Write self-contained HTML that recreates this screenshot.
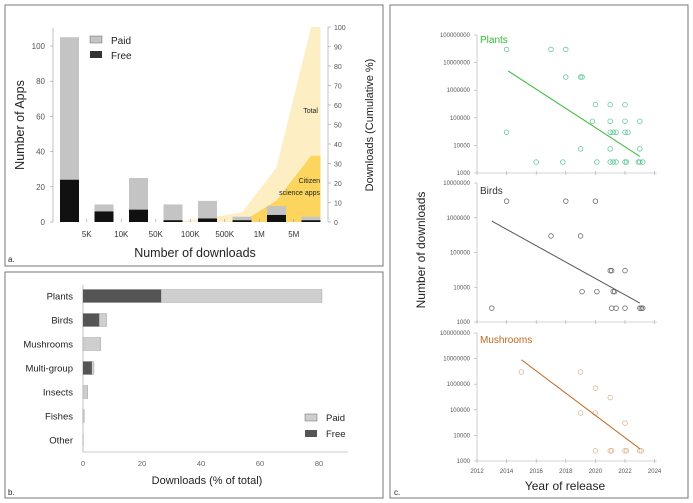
<!DOCTYPE html>
<html><head><meta charset="utf-8"><style>
body{margin:0;background:#fff;font-family:"Liberation Sans",sans-serif}
svg{display:block}
text{font-family:"Liberation Sans",sans-serif}
</style></head><body>
<svg id="s" width="693" height="503" viewBox="0 0 693 503">
<rect x="5" y="5" width="378" height="261" fill="none" stroke="#777"/>
<rect x="5" y="272" width="378" height="226" fill="none" stroke="#777"/>
<rect x="390" y="5" width="298" height="493" fill="none" stroke="#777"/>
<g id="ga"></g>
<g id="gb"></g>
<g id="gc"></g>
</svg>
<script>
// Panel a data
const aBins=['5K','10K','50K','100K','500K','1M','5M'];
const aPaid=[105,10,25,10,12,3,9,3];
const aFree=[24,6,7,1,2,1,4,1];
const aTotalCum=[0,0,0,0,2,5,28,100];
const aCitizenCum=[0,0,0,0,0,0,11,34];
const aYTicks=[0,20,40,60,80,100];
const aY2Ticks=[0,10,20,30,40,50,60,70,80,90,100];
// Panel b data
const bCats=['Plants','Birds','Mushrooms','Multi-group','Insects','Fishes','Other'];
const bFree=[26.5,5.5,0,3,0,0,0];
const bTotal=[81,8,6,3.7,1.6,0.4,0.1];
const bTicks=[0,20,40,60,80];
// Panel c data
const yearTicks=[2012,2014,2016,2018,2020,2022,2024];
const plantsYears=[2014,2017,2018,2018,2019,2019.1,2020,2021,2022,2019.8,2021,2022,2023,2014,2021,2021.2,2021.4,2022,2022.2,2019,2021,2023,2016,2017.8,2020.1,2021,2021.2,2021.4,2022,2022.1,2022.9,2023,2023.2];
const plantsVals=[3e7,3e7,3e7,3e6,3e6,3e6,3e5,3e5,3e5,7.5e4,7.5e4,7.5e4,7.5e4,3e4,3e4,3e4,3e4,3e4,3e4,7.5e3,7.5e3,7.5e3,2.5e3,2.5e3,2.5e3,2.5e3,2.5e3,2.5e3,2.5e3,2.5e3,2.5e3,2.5e3,2.5e3];
const plantsFit=[[2014.1,5e6],[2023,4e3]];
const birdsYears=[2014,2018,2020,2017,2019,2021,2021.1,2022,2019.1,2020.1,2021.2,2021.3,2013,2021.1,2021.4,2022,2023,2023.1,2023.2];
const birdsVals=[3e6,3e6,3e6,3e5,3e5,3e4,3e4,3e4,7.5e3,7.5e3,7.5e3,7.5e3,2.5e3,2.5e3,2.5e3,2.5e3,2.5e3,2.5e3,2.5e3];
const birdsFit=[[2013,8e5],[2023,3.5e3]];
const mushYears=[2015,2019,2020,2021,2019,2020,2022,2020,2021,2021.1,2022,2022.1,2023,2023.1];
const mushVals=[3e6,3e6,7e5,3e5,7.5e4,7.5e4,3e4,2.5e3,2.5e3,2.5e3,2.5e3,2.5e3,2.5e3,2.5e3];
const mushFit=[[2015,9e6],[2023,3e3]];

const NS='http://www.w3.org/2000/svg';
function mk(p,tag,at,txt){const e=document.createElementNS(NS,tag);for(const k in at)e.setAttribute(k,at[k]);if(txt!==undefined)e.textContent=txt;p.appendChild(e);return e;}

// ---------- Panel A ----------
const ga=document.getElementById('ga');
const aX0=60,aStep=34.5,aBW=19;
const ay=v=>222-v*1.76, ay2=v=>222-v*1.95;
const ax=i=>aX0+i*aStep+aBW/2;
// areas
function areaPath(arr){let d=`M${ax(0)},222`;arr.forEach((v,i)=>d+=` L${ax(i)},${ay2(v)}`);d+=` L${ax(arr.length-1)+aBW/2},${ay2(arr[arr.length-1])} L${ax(arr.length-1)+aBW/2},222 Z`;return d;}
let e=mk(ga,'path',{d:areaPath(aTotalCum),fill:'#fdefc3'});


e=mk(ga,'path',{d:areaPath(aCitizenCum),fill:'#fbd55e'});


aPaid.forEach((v,i)=>{
 let r=mk(ga,'rect',{x:aX0+i*aStep,y:ay(v),width:aBW,height:222-ay(v),fill:'#c4c4c4'});
 
 
 r=mk(ga,'rect',{x:aX0+i*aStep,y:ay(aFree[i]),width:aBW,height:222-ay(aFree[i]),fill:'#111'});
 
 
});
mk(ga,'line',{x1:53,y1:28,x2:53,y2:222,stroke:'#999','stroke-width':0.6});
mk(ga,'line',{x1:328,y1:27,x2:328,y2:222,stroke:'#999','stroke-width':0.6});
aYTicks.forEach(v=>{const t=mk(ga,'text',{x:45,y:ay(v)+3,'font-size':8,fill:'#555','text-anchor':'end'},v);
 
 
 mk(ga,'line',{x1:50,x2:53,y1:ay(v),y2:ay(v),stroke:'#999','stroke-width':0.6});});
aY2Ticks.forEach(v=>{const t=mk(ga,'text',{x:334,y:ay2(v)+3,'font-size':7,fill:'#555'},v);
 
 
 mk(ga,'line',{x1:328,x2:331,y1:ay2(v),y2:ay2(v),stroke:'#999','stroke-width':0.6});});
aBins.forEach((b,i)=>{const x=aX0+aBW+(i+0.5)*aStep-aBW/2+(aStep-aBW)/2-aStep/2+ (aStep-aBW)/2;
 const xx=aX0+aBW+(aStep-aBW)/2+i*aStep;
 mk(ga,'line',{x1:xx,x2:xx,y1:219,y2:222,stroke:'#999','stroke-width':0.6});
 const t=mk(ga,'text',{x:xx,y:237,'font-size':8,fill:'#333','text-anchor':'middle'},b);
 
 });
e=mk(ga,'text',{x:195,y:257,'font-size':12.5,fill:'#222','text-anchor':'middle'},'Number of downloads');

e=mk(ga,'text',{x:0,y:0,'font-size':12.5,fill:'#222','text-anchor':'middle',transform:'translate(24,125) rotate(-90)'},'Number of Apps');

e=mk(ga,'text',{x:0,y:0,'font-size':11,fill:'#222','text-anchor':'middle',transform:'translate(373,125) rotate(-90)'},'Downloads (Cumulative %)');

mk(ga,'rect',{x:90,y:36,width:12,height:7,fill:'#c4c4c4',stroke:'#666','stroke-width':0.5});
e=mk(ga,'text',{x:111,y:44,'font-size':10,fill:'#222'},'Paid');
mk(ga,'rect',{x:90,y:51,width:12,height:7,fill:'#333'});
e=mk(ga,'text',{x:111,y:59,'font-size':10,fill:'#222'},'Free');
e=mk(ga,'text',{x:318,y:113,'font-size':7,fill:'#222','text-anchor':'end'},'Total');
e=mk(ga,'text',{x:320,y:183,'font-size':7,fill:'#222','text-anchor':'end'},'Citizen');
mk(ga,'text',{x:320,y:195,'font-size':7,fill:'#222','text-anchor':'end'},'science apps');
e=mk(ga,'text',{x:8,y:262,'font-size':8,fill:'#222'},'a.');

// ---------- Panel B ----------
const gb=document.getElementById('gb');
const bx=v=>83+v*2.95, by=i=>296+i*24;
mk(gb,'line',{x1:83,y1:285,x2:83,y2:452,stroke:'#999','stroke-width':0.6});
mk(gb,'line',{x1:83,y1:452,x2:348,y2:452,stroke:'#999','stroke-width':0.6});
bCats.forEach((c,i)=>{
 let r=mk(gb,'rect',{x:83,y:by(i)-6.5,width:bx(bTotal[i])-83,height:13,fill:'#cfcfcf',stroke:'#999','stroke-width':0.4});
 
 
 r=mk(gb,'rect',{x:83,y:by(i)-6.5,width:bx(bFree[i])-83,height:13,fill:'#555'});
 
 
 const t=mk(gb,'text',{x:73,y:by(i)+3.5,'font-size':9.5,fill:'#222','text-anchor':'end'},c);
 
 
});
bTicks.forEach(v=>{const t=mk(gb,'text',{x:bx(v),y:466,'font-size':7.5,fill:'#666','text-anchor':'middle'},v);
 
 });
e=mk(gb,'text',{x:207,y:484,'font-size':11,fill:'#222','text-anchor':'middle'},'Downloads (% of total)');
mk(gb,'rect',{x:305,y:414,width:12,height:7,fill:'#cfcfcf',stroke:'#666','stroke-width':0.5});
e=mk(gb,'text',{x:326,y:421,'font-size':9.5,fill:'#222'},'Paid');
mk(gb,'rect',{x:305,y:430,width:12,height:7,fill:'#555'});
e=mk(gb,'text',{x:326,y:437,'font-size':9.5,fill:'#222'},'Free');
e=mk(gb,'text',{x:8,y:495,'font-size':8,fill:'#222'},'b.');

// ---------- Panel C ----------
const gc=document.getElementById('gc');
const cx=y=>477+(y-2012)*14.8;
function sub(name,top,bot,dTop,dBot,years,vals,fit,pc,lc,label,lx){
 const g=mk(gc,'g',{});
 
 
 const yy=v=>bot-(Math.log10(v)-dBot)/(dTop-dBot)*(bot-top);
 mk(g,'line',{x1:477,y1:top,x2:477,y2:bot,stroke:'#aaa','stroke-width':0.6});
 mk(g,'line',{x1:477,y1:bot,x2:657,y2:bot,stroke:'#aaa','stroke-width':0.6});
 yearTicks.forEach(y=>mk(g,'line',{x1:cx(y),x2:cx(y),y1:bot-2,y2:bot+2,stroke:'#aaa','stroke-width':0.6}));
 for(let d=dBot;d<=dTop;d++){const t=mk(g,'text',{x:470,y:yy(Math.pow(10,d))+2,'font-size':6,fill:'#555','text-anchor':'end'},String(Math.pow(10,d)));
  
  
  mk(g,'line',{x1:474,x2:477,y1:yy(Math.pow(10,d)),y2:yy(Math.pow(10,d)),stroke:'#aaa','stroke-width':0.6});}
 years.forEach((y,i)=>{const c=mk(g,'circle',{cx:cx(y),cy:yy(vals[i]),r:2.3,fill:'none',stroke:pc,'stroke-width':0.7});
  
  });
 const l=mk(g,'line',{x1:cx(fit[0][0]),y1:yy(fit[0][1]),x2:cx(fit[1][0]),y2:yy(fit[1][1]),stroke:lc,'stroke-width':1});
 
 
 const t=mk(g,'text',{x:480,y:lx,'font-size':10,fill:label},name.charAt(0).toUpperCase()+name.slice(1));
 
 
 return g;
}
sub('plants',35,173,8,3,plantsYears,plantsVals,plantsFit,'#4bbf8a','#33bb33','#33bb33',43);
sub('birds',183,322,7,3,birdsYears,birdsVals,birdsFit,'#555','#555','#333',194);
sub('mushrooms',333,461,8,3,mushYears,mushVals,mushFit,'#d8ad80','#c0671e','#c0671e',343);
yearTicks.forEach(y=>{const t=mk(gc,'text',{x:cx(y),y:473,'font-size':6,fill:'#555','text-anchor':'middle'},y);
 
 });
e=mk(gc,'text',{x:565,y:490,'font-size':12,fill:'#222','text-anchor':'middle'},'Year of release');
e=mk(gc,'text',{x:0,y:0,'font-size':12,fill:'#222','text-anchor':'middle',transform:'translate(425,250) rotate(-90)'},'Number of downloads');
e=mk(gc,'text',{x:394,y:495,'font-size':8,fill:'#222'},'c.');
</script>
</body></html>
